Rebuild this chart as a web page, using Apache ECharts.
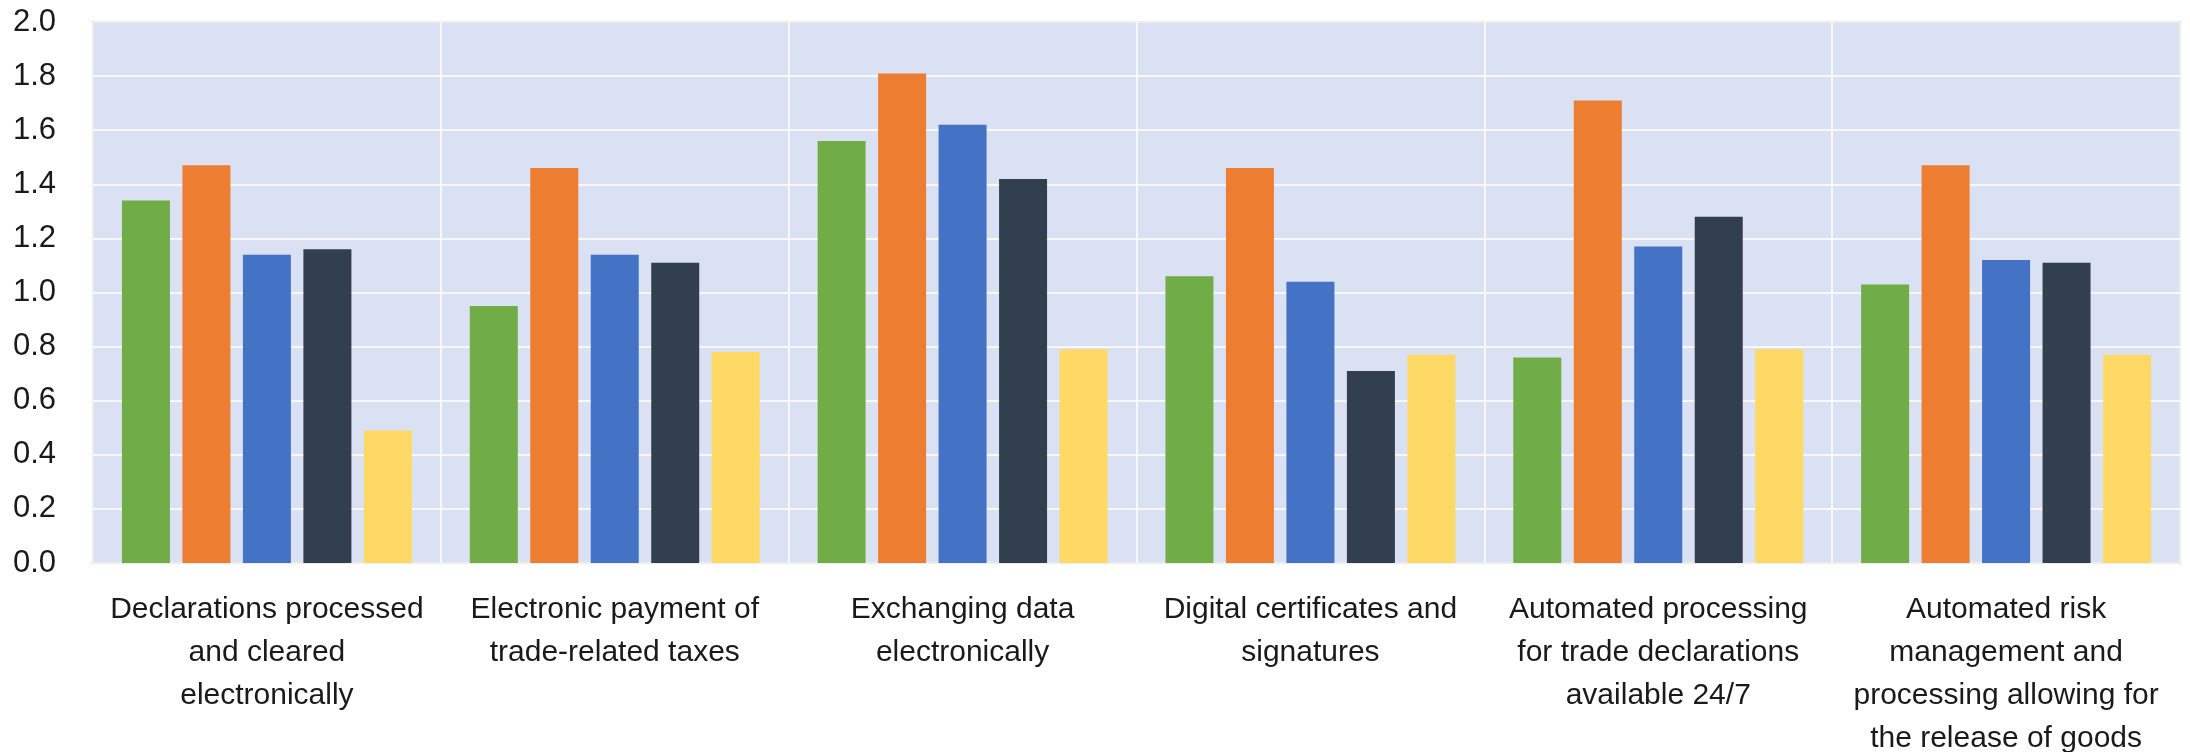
<!DOCTYPE html>
<html>
<head>
<meta charset="utf-8">
<script src="https://cdn.jsdelivr.net/npm/echarts@6/dist/echarts.min.js"></script>
<style>
html, body { margin: 0; padding: 0; background: #ffffff; }
#chart { width: 2190px; height: 752px; }
</style>
</head>
<body>
<div id="chart"></div>
<script>
const categories = [
  'Declarations processed\nand cleared\nelectronically',
  'Electronic payment of\ntrade-related taxes',
  'Exchanging data\nelectronically',
  'Digital certificates and\nsignatures',
  'Automated processing\nfor trade declarations\navailable 24/7',
  'Automated risk\nmanagement and\nprocessing allowing for\nthe release of goods'
];
const seriesNames = ['Series 1', 'Series 2', 'Series 3', 'Series 4', 'Series 5'];
const series1 = [1.34, 0.95, 1.56, 1.06, 0.76, 1.03];
const series2 = [1.47, 1.46, 1.81, 1.46, 1.71, 1.47];
const series3 = [1.14, 1.14, 1.62, 1.04, 1.17, 1.12];
const series4 = [1.16, 1.11, 1.42, 0.71, 1.28, 1.11];
const series5 = [0.49, 0.78, 0.79, 0.77, 0.79, 0.77];
const colors = ['#70AD47', '#ED7D31', '#4472C4', '#323F4F', '#FFD966'];

const allData = [series1, series2, series3, series4, series5];

const chart = echarts.init(document.getElementById('chart'), null, { renderer: 'canvas' });
chart.setOption({
  animation: false,
  backgroundColor: '#ffffff',
  grid: {
    left: 93, right: 10, top: 22, bottom: 189,
    containLabel: false,
    outerBoundsMode: 'none',
    show: true,
    backgroundColor: '#D9E1F2',
    borderColor: '#A6A6A6',
    borderWidth: 1.5
  },
  xAxis: {
    type: 'category',
    data: categories,
    boundaryGap: true,
    axisLine: { show: false },
    axisTick: { show: false },
    splitLine: { show: true, interval: 0, lineStyle: { color: '#ffffff', width: 1.5 } },
    axisLabel: {
      interval: 0,
      margin: 25,
      color: '#1a1a1a',
      fontFamily: "'Liberation Sans', Arial, sans-serif",
      fontSize: 30,
      lineHeight: 43,
      align: 'center'
    }
  },
  yAxis: {
    type: 'value',
    min: 0, max: 2, interval: 0.2,
    axisLine: { show: false },
    axisTick: { show: false },
    splitLine: { show: true, lineStyle: { color: '#ffffff', width: 1.5 } },
    axisLabel: {
      margin: 37,
      color: '#1a1a1a',
      fontFamily: "'Liberation Sans', Arial, sans-serif",
      fontSize: 31,
      formatter: v => v.toFixed(1)
    }
  },
  series: allData.map((d, i) => ({
    name: seriesNames[i],
    type: 'bar',
    data: d,
    barWidth: '13.8%',
    barGap: '26%',
    itemStyle: { color: colors[i] }
  }))
});
</script>
</body>
</html>
